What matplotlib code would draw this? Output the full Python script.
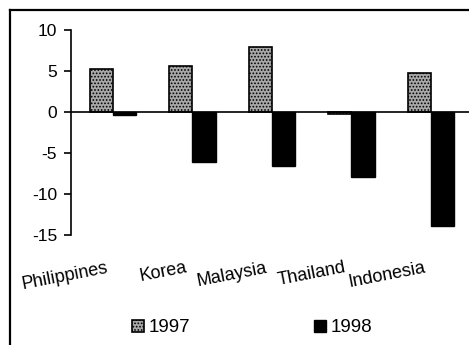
import matplotlib
matplotlib.use("Agg")
import matplotlib.pyplot as plt
from matplotlib.lines import Line2D
import matplotlib.transforms as mtrans
import numpy as np

countries = ["Philippines", "Korea", "Malaysia", "Thailand", "Indonesia"]
v1997 = [5.3, 5.6, 7.9, -0.3, 4.7]
v1998 = [-0.4, -6.1, -6.6, -7.9, -13.9]
yticks = [10, 5, 0, -5, -10, -15]

plt.rcParams['font.family'] = ['Liberation Sans', 'DejaVu Sans']
plt.rcParams['hatch.color'] = '#555555'
plt.rcParams['hatch.linewidth'] = 0.8
W, H = 469, 345
fig = plt.figure(figsize=(W / 100, H / 100), dpi=100)

# axes placement (pixels)
ax_l, ax_r, ax_t, ax_b = 71, 469, 30, 235
ax = fig.add_axes([ax_l / W, 1 - ax_b / H, (ax_r - ax_l) / W, (ax_b - ax_t) / H])

x = np.arange(len(countries))
bw = 0.29
ax.bar(x - bw / 2, v1997, bw, facecolor='#a8a8a8', edgecolor='black',
       linewidth=1.2, hatch='.....', label='1997')
ax.bar(x + bw / 2, v1998, bw, facecolor='black', edgecolor='black',
       linewidth=1.0, label='1998')

ax.set_xlim(-0.528, 4.478)
ax.set_ylim(-15, 10)
ax.axhline(0, color='black', linewidth=1.2)
for s in ['top', 'right', 'bottom']:
    ax.spines[s].set_visible(False)
ax.spines['left'].set_linewidth(1.2)
ax.set_xticks([])
ax.set_yticks(yticks)
ax.set_yticklabels([str(v) for v in yticks], fontsize=12.5)
ax.tick_params(axis='y', direction='out', length=5, width=1.2, pad=5)

trans = mtrans.blended_transform_factory(ax.transData, fig.transFigure)
for i, c in enumerate(countries):
    ax.text(i - 0.06, 1 - 272 / H, c, transform=trans, ha='right', va='baseline',
            rotation=11, rotation_mode='anchor', fontsize=13, clip_on=False)

leg = fig.legend(loc='center left', bbox_to_anchor=(124 / W, 1 - 328 / H), ncol=2,
                 frameon=False, fontsize=13.5, handlelength=0.65, handleheight=0.65,
                 handletextpad=0.25, columnspacing=6.6, borderaxespad=0)

# outer frame
fig.add_artist(Line2D([10 / W, 10 / W], [0, 1 - 10 / H], color='black', linewidth=1.6,
                      transform=fig.transFigure))
fig.add_artist(Line2D([10 / W, 1], [1 - 10 / H, 1 - 10 / H], color='black', linewidth=1.6,
                      transform=fig.transFigure))

fig.savefig("out.png", dpi=100)
